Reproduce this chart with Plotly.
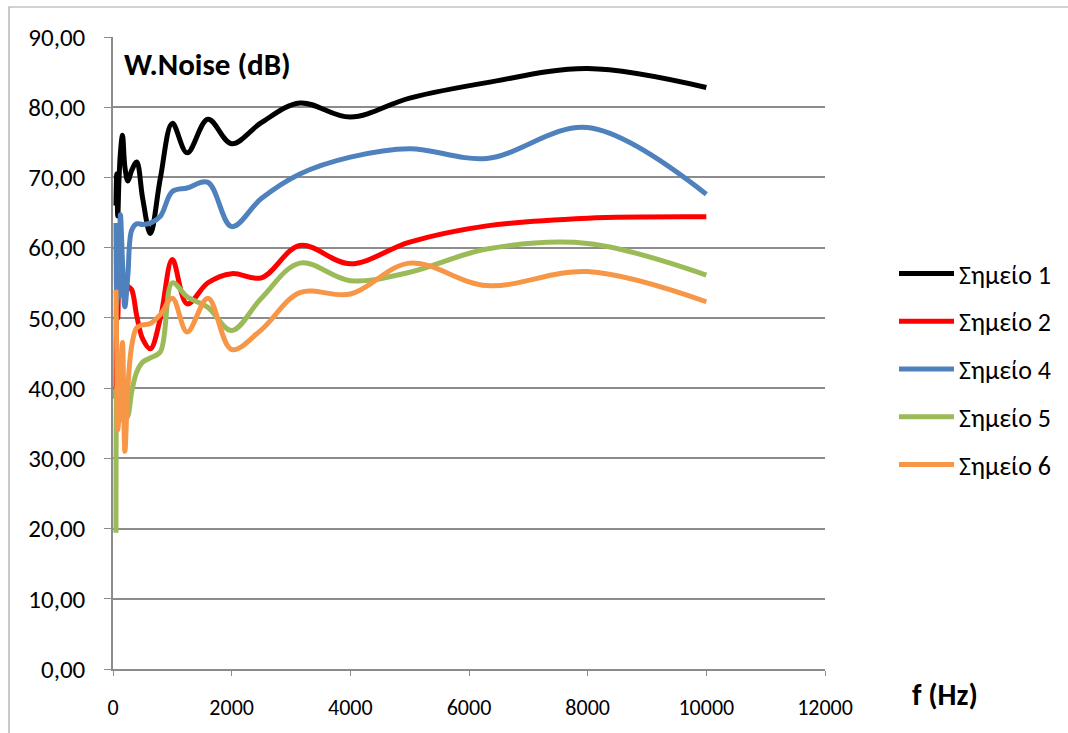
import plotly.graph_objects as go

# 1/3-octave band centre frequencies (Hz)
freq = [50, 63, 80, 100, 125, 160, 200, 250, 315, 400, 500, 630, 800,
        1000, 1250, 1600, 2000, 2500, 3150, 4000, 5000, 6300, 8000, 10000]

# White-noise levels (dB) per measurement point
simeio_1 = [66.0, 70.5, 64.5, 69.5, 73.5, 76.0, 71.5, 69.5, 71.0, 72.2, 67.0, 62.0, 70.0,
            77.7, 73.5, 78.3, 74.8, 77.8, 80.6, 78.6, 81.3, 83.5, 85.5, 82.8]
simeio_2 = [38.5, 53.0, 50.0, 55.0, 56.0, 55.5, 55.0, 54.5, 54.0, 50.3, 47.0, 45.6, 50.0,
            58.3, 52.0, 55.0, 56.3, 55.7, 60.3, 57.7, 60.8, 63.1, 64.2, 64.4]
simeio_4 = [63.5, 52.0, 58.0, 53.0, 64.7, 58.0, 51.6, 56.0, 62.5, 63.4, 63.3, 63.5, 64.5,
            68.0, 68.5, 69.3, 63.0, 67.0, 70.5, 72.9, 74.1, 72.7, 77.1, 67.6]
simeio_5 = [19.4, 40.0, 37.0, 36.5, 36.0, 35.5, 35.5, 36.0, 39.5, 42.3, 43.7, 44.3, 45.2,
            55.0, 53.0, 51.5, 48.2, 52.8, 57.8, 55.3, 56.5, 59.8, 60.6, 56.1]
simeio_6 = [54.0, 45.0, 34.0, 36.0, 40.0, 46.5, 31.0, 40.0, 46.0, 48.6, 49.0, 49.2, 50.5,
            52.8, 48.0, 52.8, 45.5, 48.3, 53.6, 53.4, 57.8, 54.6, 56.6, 52.3]

series_names = ["Σημείο 1", "Σημείο 2", "Σημείο 4", "Σημείο 5", "Σημείο 6"]
series_values = [simeio_1, simeio_2, simeio_4, simeio_5, simeio_6]
series_colors = ["#000000", "#FF0000", "#4F81BD", "#9BBB59", "#F79646"]

x_ticks = [0, 2000, 4000, 6000, 8000, 10000, 12000]
y_ticks = [0, 10, 20, 30, 40, 50, 60, 70, 80, 90]

FONT = "Carlito, 'Noto Sans', 'DejaVu Sans', sans-serif"
GRID = "#8C8C8C"

fig = go.Figure()
for i, (name, vals, col) in enumerate(zip(series_names, series_values, series_colors)):
    fig.add_trace(go.Scatter(
        x=freq, y=vals, name=name, mode="lines",
        line=dict(color=col, width=5, shape="spline", smoothing=1.0),
        legendgroup=f"g{i}",
    ))

L, R, T, B = 113, 243, 37, 64
W, H = 1068, 733
pw = W - L - R
ph = H - T - B

fig.update_layout(
    width=W, height=H,
    margin=dict(l=L, r=R, t=T, b=B),
    paper_bgcolor="white", plot_bgcolor="white",
    separators=",.",
    font=dict(family=FONT, color="#000000"),
    showlegend=True,
    legend=dict(
        xref="container", yref="container",
        x=894 / W, y=1 - 250 / H, xanchor="left", yanchor="top",
        font=dict(size=26, family=FONT), bgcolor="rgba(0,0,0,0)",
        traceorder="grouped", tracegroupgap=11, itemwidth=55,
    ),
    xaxis=dict(
        range=[0, 12000], tickvals=x_ticks, ticktext=[str(v) for v in x_ticks],
        showgrid=False, zeroline=False, automargin=False,
        showline=True, linecolor=GRID, linewidth=1.5,
        ticks="outside", ticklen=5, tickcolor=GRID, ticklabelstandoff=13,
        tickfont=dict(size=22, family=FONT), fixedrange=True,
    ),
    yaxis=dict(
        range=[0, 90], tickvals=y_ticks, tickformat=".2f",
        showgrid=True, gridcolor=GRID, gridwidth=1.5, zeroline=False, automargin=False,
        showline=True, linecolor=GRID, linewidth=1.5,
        ticks="outside", ticklen=7, tickcolor=GRID, ticklabelstandoff=14,
        tickfont=dict(size=25, family=FONT), fixedrange=True,
    ),
)

# chart frame
fig.add_shape(type="rect", xref="paper", yref="paper",
              x0=(9 - L) / pw, x1=(1080 - L) / pw,
              y0=-(745 - 669) / ph, y1=(669 - 7) / ph,
              line=dict(color="#A6A6A6", width=1.2), layer="below")

fig.add_annotation(text="<b>W.Noise (dB)</b>", xref="paper", yref="paper",
                   x=(122 - L) / pw, y=(669 - 64) / ph, xanchor="left", yanchor="middle",
                   showarrow=False, font=dict(size=31, family=FONT))
fig.add_annotation(text="<b>f (Hz)</b>", xref="paper", yref="paper",
                   x=(910 - L) / pw, y=-(694 - 669) / ph, xanchor="left", yanchor="middle",
                   showarrow=False, font=dict(size=30, family=FONT))

fig.write_html("out.html")
